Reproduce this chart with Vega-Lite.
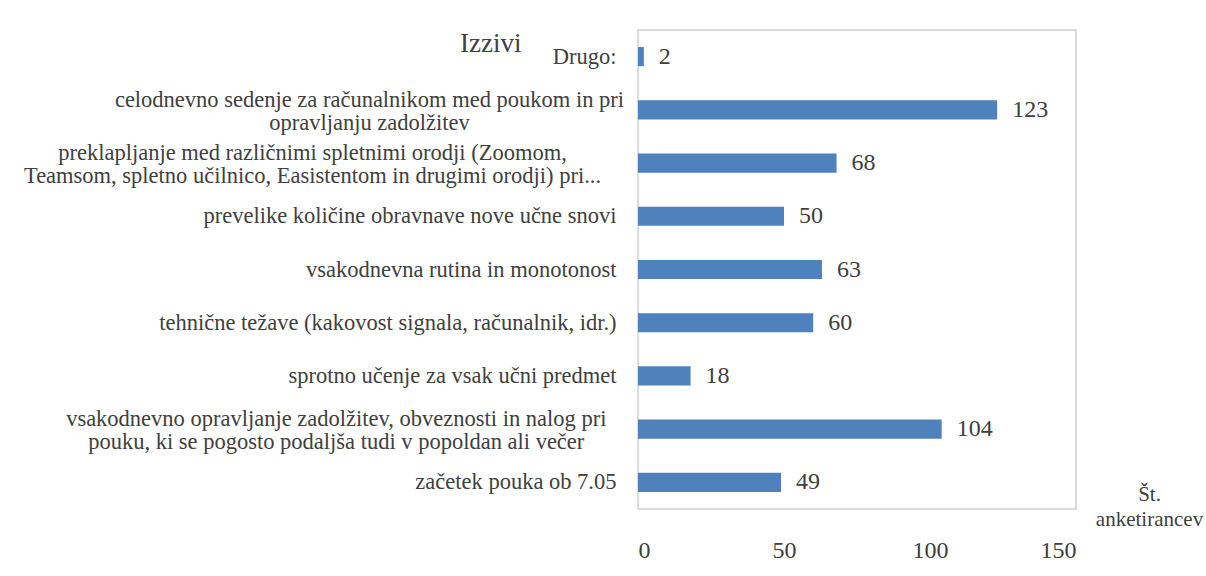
{
  "$schema": "https://vega.github.io/schema/vega-lite/v6.json",
  "autosize": {"type": "none"},
  "padding": {"left": 638, "top": 30, "right": 130, "bottom": 67},
  "width": 438,
  "height": 479,
  "background": "white",
  "title": {
    "text": "Izzivi",
    "anchor": "start",
    "frame": "group",
    "offset": 0,
    "baseline": "alphabetic",
    "dx": -178,
    "dy": 49,
    "font": "Liberation Serif",
    "fontSize": 27,
    "fontWeight": "normal",
    "color": "#404040"
  },
  "data": {
    "values": [
      {"izziv": "Drugo:", "n": 2},
      {"izziv": "celodnevno sedenje za računalnikom med poukom in pri|opravljanju zadolžitev", "n": 123},
      {"izziv": "preklapljanje med različnimi spletnimi orodji (Zoomom,|Teamsom, spletno učilnico, Easistentom in drugimi orodji) pri...", "n": 68},
      {"izziv": "prevelike količine obravnave nove učne snovi", "n": 50},
      {"izziv": "vsakodnevna rutina in monotonost", "n": 63},
      {"izziv": "tehnične težave (kakovost signala, računalnik, idr.)", "n": 60},
      {"izziv": "sprotno učenje za vsak učni predmet", "n": 18},
      {"izziv": "vsakodnevno opravljanje zadolžitev, obveznosti in nalog pri|pouku, ki se pogosto podaljša tudi v popoldan ali večer", "n": 104},
      {"izziv": "začetek pouka ob 7.05", "n": 49}
    ]
  },
  "encoding": {
    "y": {
      "field": "izziv",
      "type": "nominal",
      "sort": null,
      "scale": {"paddingInner": 0.64, "paddingOuter": 0.32},
      "axis": {
        "title": null,
        "ticks": false,
        "domain": false,
        "labelPadding": {"expr": "indexof(datum.value, '|') >= 0 ? 22 + 4.75 * max(length(split(datum.value, '|')[0]), length(split(datum.value, '|')[1])) : 22"},
        "labelAlign": {"expr": "indexof(datum.value, '|') >= 0 ? 'center' : 'right'"},
        "labelLimit": 700,
        "labelExpr": "split(datum.label, '|')",
        "labelOffset": {"expr": "indexof(datum.value, '|') >= 0 ? -10 : 0"},
        "labelLineHeight": 23,
        "labelFont": "Liberation Serif",
        "labelFontSize": 22.5,
        "labelColor": "#404040"
      }
    },
    "x": {
      "field": "n",
      "type": "quantitative",
      "scale": {"domain": [0, 150], "nice": false},
      "axis": {
        "values": [0, 50, 100, 150],
        "grid": false,
        "ticks": false,
        "domain": false,
        "labelPadding": 29,
        "labelFont": "Liberation Serif",
        "labelFontSize": 24,
        "labelColor": "#404040",
        "title": ["Št.", "anketirancev"],
        "titleFont": "Liberation Serif",
        "titleFontSize": 21,
        "titleFontWeight": "normal",
        "titleColor": "#404040",
        "titleAlign": "center",
        "titleBaseline": "alphabetic",
        "titleLineHeight": 25,
        "titleX": 511,
        "titleY": -9
      }
    }
  },
  "layer": [
    {"mark": {"type": "bar", "color": "#4f81bd"}},
    {
      "mark": {
        "type": "text",
        "align": "left",
        "dx": 15,
        "font": "Liberation Serif",
        "fontSize": 24,
        "color": "#404040"
      },
      "encoding": {"text": {"field": "n", "type": "quantitative"}}
    }
  ],
  "config": {
    "view": {"stroke": "#d0d0d0", "strokeWidth": 1.5}
  }
}
